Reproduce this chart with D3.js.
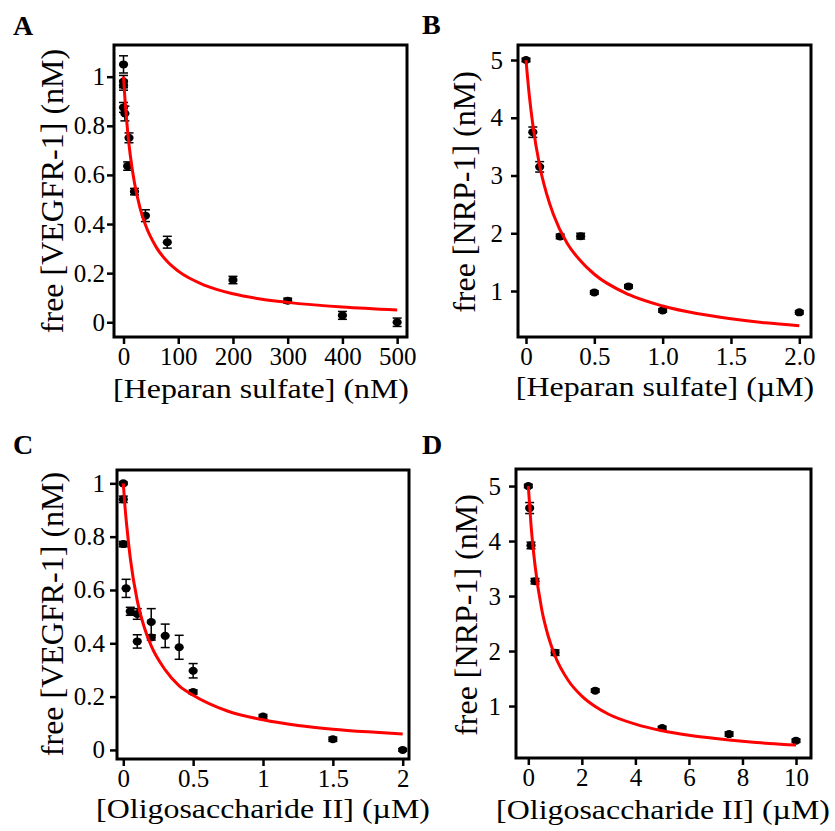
<!DOCTYPE html>
<html>
<head>
<meta charset="utf-8">
<script src="https://cdn.jsdelivr.net/npm/d3@7"></script>
<style>
  body { margin: 0; background: #fff; }
  text { font-family: "Liberation Serif", "Times New Roman", serif; }
</style>
</head>
<body>
<div id="chart"></div>
<script>
/* Four binding panels: free receptor vs. competitor concentration */

// Panel A: VEGFR-1 vs heparan sulfate (nM)
const aX   = [0, 0, 0, 0, 2.5, 7.5, 10, 20, 40, 80, 200, 300, 400, 500];
const aY   = [1.05, 0.98, 0.965, 0.875, 0.85, 0.636, 0.751, 0.532, 0.434, 0.326, 0.172, 0.088, 0.028, 0];
const aErr = [0.035, 0.025, 0.02, 0.02, 0.03, 0.017, 0.02, 0.013, 0.024, 0.024, 0.015, 0.01, 0.016, 0.017];
const aFitX = [0, 2.5, 5, 10, 15, 20, 30, 40, 60, 80, 100, 150, 200, 250, 300, 400, 500];
const aFitY = [1, 0.913, 0.84, 0.724, 0.637, 0.568, 0.467, 0.397, 0.305, 0.247, 0.208, 0.149, 0.116, 0.095, 0.081, 0.062, 0.05];
const aXTicks = [0, 100, 200, 300, 400, 500];
const aXLabels = ["0", "100", "200", "300", "400", "500"];
const aYTicks = [0, 0.2, 0.4, 0.6, 0.8, 1];
const aYLabels = ["0", "0.2", "0.4", "0.6", "0.8", "1"];

// Panel B: NRP-1 vs heparan sulfate (µM)
const bX   = [0, 0.05, 0.1, 0.25, 0.4, 0.5, 0.75, 1.0, 2.0];
const bY   = [5.0, 3.75, 3.15, 1.945, 1.95, 0.975, 1.08, 0.664, 0.63];
const bErr = [0.03, 0.09, 0.09, 0.04, 0.05, 0.03, 0.03, 0.03, 0.03];
const bFitX = [0, 0.025, 0.05, 0.1, 0.15, 0.2, 0.3, 0.4, 0.5, 0.75, 1.0, 1.25, 1.5, 1.75, 2.0];
const bFitY = [5, 4.37, 3.88, 3.17, 2.69, 2.33, 1.83, 1.52, 1.29, 0.94, 0.74, 0.61, 0.52, 0.45, 0.40];
const bXTicks = [0, 0.5, 1.0, 1.5, 2.0];
const bXLabels = ["0", "0.5", "1.0", "1.5", "2.0"];
const bYTicks = [1, 2, 3, 4, 5];
const bYLabels = ["1", "2", "3", "4", "5"];

// Panel C: VEGFR-1 vs oligosaccharide II (µM)
const cX   = [0, 0, 0, 0.02, 0.05, 0.1, 0.1, 0.2, 0.2, 0.3, 0.4, 0.5, 0.5, 1.0, 1.5, 2.0];
const cY   = [1.0, 0.94, 0.772, 0.606, 0.52, 0.51, 0.407, 0.48, 0.422, 0.428, 0.385, 0.297, 0.217, 0.125, 0.04, 0];
const cErr = [0.005, 0.012, 0.01, 0.034, 0.015, 0.02, 0.025, 0.05, 0.01, 0.044, 0.045, 0.027, 0.008, 0.008, 0.008, 0.005];
const cFitX = [0, 0.0125, 0.025, 0.05, 0.1, 0.15, 0.2, 0.3, 0.4, 0.5, 0.75, 1.0, 1.25, 1.5, 1.75, 2.0];
const cFitY = [1, 0.91, 0.84, 0.72, 0.56, 0.46, 0.39, 0.30, 0.24, 0.205, 0.145, 0.113, 0.092, 0.078, 0.068, 0.06];
const cXTicks = [0, 0.5, 1, 1.5, 2];
const cXLabels = ["0", "0.5", "1", "1.5", "2"];
const cYTicks = [0, 0.2, 0.4, 0.6, 0.8, 1];
const cYLabels = ["0", "0.2", "0.4", "0.6", "0.8", "1"];

// Panel D: NRP-1 vs oligosaccharide II (µM)
const dX   = [0, 0.05, 0.1, 0.25, 1, 2.5, 5, 7.5, 10];
const dY   = [5.0, 4.6, 3.92, 3.27, 1.97, 1.28, 0.6, 0.49, 0.37];
const dErr = [0.03, 0.1, 0.06, 0.05, 0.05, 0.03, 0.03, 0.04, 0.03];
const dFitX = [0, 0.1, 0.25, 0.5, 0.75, 1, 1.5, 2, 2.5, 3, 4, 5, 6, 7, 8, 9, 10];
const dFitY = [5, 4.30, 3.56, 2.76, 2.26, 1.91, 1.46, 1.18, 0.99, 0.85, 0.67, 0.55, 0.47, 0.41, 0.36, 0.32, 0.29];
const dXTicks = [0, 2, 4, 6, 8, 10];
const dXLabels = ["0", "2", "4", "6", "8", "10"];
const dYTicks = [1, 2, 3, 4, 5];
const dYLabels = ["1", "2", "3", "4", "5"];

const width = 835, height = 831;

const panels = [
  { letter: "A", lx: 13, ly: 35, box: [114, 45, 407, 337], xDom: [-17.4, 518], yDom: [-0.06, 1.129],
    xt: aXTicks, xl: aXLabels, yt: aYTicks, yl: aYLabels, yPad: 2,
    xTitle: "[Heparan sulfate] (nM)", yTitle: "free [VEGFR-1] (nM)",
    tx: 261, ty: 398, ytx: 63, yty: 191,
    px: aX, py: aY, pe: aErr, fx: aFitX, fy: aFitY },
  { letter: "B", lx: 422, ly: 34, box: [518, 45, 811, 337], xDom: [-0.0585, 2.0856], yDom: [0.2035, 5.26],
    xt: bXTicks, xl: bXLabels, yt: bYTicks, yl: bYLabels, yPad: 8,
    xTitle: "[Heparan sulfate] (\u00b5M)", yTitle: "free [NRP-1] (nM)",
    tx: 665, ty: 396, ytx: 475, yty: 192,
    px: bX, py: bY, pe: bErr, fx: bFitX, fy: bFitY },
  { letter: "C", lx: 13, ly: 454, box: [117, 470, 409, 759], xDom: [-0.045, 2.045], yDom: [-0.034, 1.05],
    xt: cXTicks, xl: cXLabels, yt: cYTicks, yl: cYLabels, yPad: 5,
    xTitle: "[Oligosaccharide II] (\u00b5M)", yTitle: "free [VEGFR-1] (nM)",
    tx: 263, ty: 818, ytx: 63, yty: 614,
    px: cX, py: cY, pe: cErr, fx: cFitX, fy: cFitY },
  { letter: "D", lx: 422, ly: 454, box: [516, 469, 811, 758], xDom: [-0.46, 10.56], yDom: [0.055, 5.31],
    xt: dXTicks, xl: dXLabels, yt: dYTicks, yl: dYLabels, yPad: 8,
    xTitle: "[Oligosaccharide II] (\u00b5M)", yTitle: "free [NRP-1] (nM)",
    tx: 663, ty: 819, ytx: 477, yty: 615,
    px: dX, py: dY, pe: dErr, fx: dFitX, fy: dFitY }
];

let svg = d3.select("#chart")
  .append("svg")
  .attr("width", width)
  .attr("height", height);

for (let p of panels) {
  const [x0, y0, x1, y1] = p.box;
  const x = d3.scaleLinear().domain(p.xDom).range([x0, x1]);
  const y = d3.scaleLinear().domain(p.yDom).range([y1, y0]);

  const g = svg.append("g");

  // axes (ticks + labels), frame drawn separately
  const xAxis = g.append("g")
    .attr("transform", `translate(0, ${y1})`)
    .call(d3.axisBottom(x).tickValues(p.xt).tickSize(7).tickPadding(3)
      .tickFormat((d, i) => p.xl[i]));
  const yAxis = g.append("g")
    .attr("transform", `translate(${x0}, 0)`)
    .call(d3.axisLeft(y).tickValues(p.yt).tickSize(7).tickPadding(p.yPad)
      .tickFormat((d, i) => p.yl[i]));

  for (let ax of [xAxis, yAxis]) {
    ax.select(".domain").remove();
    ax.selectAll(".tick line").attr("stroke", "#000").attr("stroke-width", 2.5);
    ax.selectAll(".tick text")
      .attr("fill", "#000")
      .style("font-family", '"Liberation Serif", serif')
      .style("font-size", "25px");
  }

  g.append("rect")
    .attr("x", x0).attr("y", y0)
    .attr("width", x1 - x0).attr("height", y1 - y0)
    .attr("fill", "none")
    .attr("stroke", "#000")
    .attr("stroke-width", 3);

  // error bars
  const idx = d3.range(p.px.length);
  const eb = g.append("g").attr("stroke", "#000").attr("stroke-width", 1.5);
  eb.selectAll(".v").data(idx).join("line")
    .attr("x1", i => x(p.px[i])).attr("x2", i => x(p.px[i]))
    .attr("y1", i => y(p.py[i] - p.pe[i])).attr("y2", i => y(p.py[i] + p.pe[i]));
  for (let s of [-1, 1]) {
    eb.selectAll(".c" + s).data(idx).join("line")
      .attr("x1", i => x(p.px[i]) - 4.5).attr("x2", i => x(p.px[i]) + 4.5)
      .attr("y1", i => y(p.py[i] + s * p.pe[i])).attr("y2", i => y(p.py[i] + s * p.pe[i]));
  }

  // points
  g.append("g").selectAll("ellipse").data(idx).join("ellipse")
    .attr("cx", i => x(p.px[i]))
    .attr("cy", i => y(p.py[i]))
    .attr("rx", 4.6)
    .attr("ry", 4)
    .attr("fill", "#000");

  // fitted curve
  const line = d3.line()
    .x(i => x(p.fx[i]))
    .y(i => y(p.fy[i]))
    .curve(d3.curveMonotoneX);
  g.append("path")
    .attr("d", line(d3.range(p.fx.length)))
    .attr("fill", "none")
    .attr("stroke", "#ff0000")
    .attr("stroke-width", 3);

  // titles (x title a bit wide, as in the source figure)
  g.append("text")
    .attr("transform", `translate(${p.tx}, ${p.ty}) scale(1.14, 1)`)
    .attr("text-anchor", "middle")
    .style("font-size", "28px")
    .text(p.xTitle);
  g.append("text")
    .attr("transform", `translate(${p.ytx}, ${p.yty}) rotate(-90)`)
    .attr("text-anchor", "middle")
    .style("font-size", "32px")
    .text(p.yTitle);

  g.append("text")
    .attr("x", p.lx).attr("y", p.ly)
    .style("font-size", "28px")
    .style("font-weight", "bold")
    .text(p.letter);
}
</script>
</body>
</html>
